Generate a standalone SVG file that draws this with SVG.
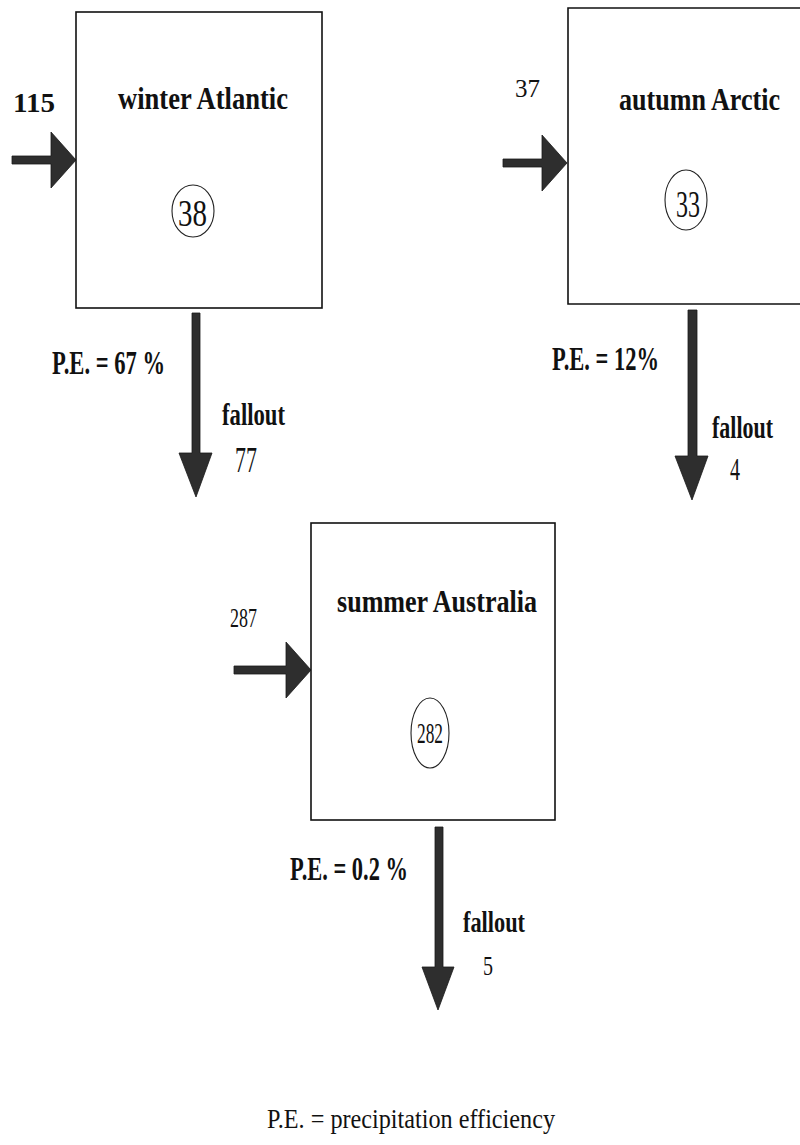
<svg xmlns="http://www.w3.org/2000/svg" width="800" height="1145" viewBox="0 0 800 1145">
  <style>
    .box { fill: #ffffff; stroke: #111111; stroke-width: 1.6; }
    .pool { fill: none; stroke: #222222; stroke-width: 1.1; }
    .arrow { fill: #2e2e2e; stroke: #1a1a1a; stroke-width: 0.8; }
    .title { font-family: "Liberation Serif", "Times New Roman", serif; font-weight: bold; fill: #111111; }
    .num { font-family: "Liberation Serif", "Times New Roman", serif; fill: #111111; }
    .bnum { font-family: "Liberation Serif", "Times New Roman", serif; font-weight: bold; fill: #111111; }
  </style>
  <rect width="800" height="1145" fill="#ffffff"/>

  <g id="connectors">
    <path id="in-atlantic" class="arrow" d="M12,156 L51,156 L51,132 L76,160 L51,188 L51,164 L12,164 Z"/>
    <path id="in-arctic" class="arrow" d="M503,159 L542,159 L542,135 L567,163 L542,191 L542,167 L503,167 Z"/>
    <path id="in-australia" class="arrow" d="M234,666 L286,666 L286,642 L311,670 L286,698 L286,674 L234,674 Z"/>
    <path id="out-atlantic" class="arrow" d="M192,313 L200,313 L200,453 L212,453 L196,497 L179,453 L192,453 Z"/>
    <path id="out-arctic" class="arrow" d="M688,310 L697,310 L697,456 L708,456 L692,500 L675,456 L688,456 Z"/>
    <path id="out-australia" class="arrow" d="M435,827 L443,827 L443,967 L454,967 L438,1010 L422,967 L435,967 Z"/>

    <text class="bnum" x="13" y="112" font-size="28" textLength="42" lengthAdjust="spacingAndGlyphs">115</text>
    <text class="num" x="515" y="97" font-size="26" textLength="25" lengthAdjust="spacingAndGlyphs">37</text>
    <text class="num" x="230" y="627" font-size="28" textLength="27" lengthAdjust="spacingAndGlyphs">287</text>

    <text class="title" x="52" y="374" font-size="34" textLength="113" lengthAdjust="spacingAndGlyphs">P.E. = 67 %</text>
    <text class="title" x="222" y="425" font-size="31" textLength="63" lengthAdjust="spacingAndGlyphs">fallout</text>
    <text class="num" x="235" y="472" font-size="35" textLength="22" lengthAdjust="spacingAndGlyphs">77</text>

    <text class="title" x="552" y="370" font-size="34" textLength="107" lengthAdjust="spacingAndGlyphs">P.E. = 12%</text>
    <text class="title" x="712" y="438" font-size="31" textLength="61" lengthAdjust="spacingAndGlyphs">fallout</text>
    <text class="num" x="730" y="480" font-size="32" textLength="10" lengthAdjust="spacingAndGlyphs">4</text>

    <text class="title" x="290" y="880" font-size="34" textLength="118" lengthAdjust="spacingAndGlyphs">P.E. = 0.2 %</text>
    <text class="title" x="463" y="932" font-size="30" textLength="62" lengthAdjust="spacingAndGlyphs">fallout</text>
    <text class="num" x="483" y="975" font-size="27" textLength="10" lengthAdjust="spacingAndGlyphs">5</text>
  </g>

  <g id="node-winter-atlantic">
    <rect class="box" x="76" y="12" width="246" height="296"/>
    <text class="title" transform="translate(118,109) scale(1,1.2)" x="0" y="0" font-size="26" textLength="170" lengthAdjust="spacingAndGlyphs">winter Atlantic</text>
    <ellipse class="pool" cx="193" cy="211" rx="21" ry="26"/>
    <text class="num" x="178" y="226" font-size="38" textLength="29" lengthAdjust="spacingAndGlyphs">38</text>
  </g>

  <g id="node-autumn-arctic">
    <path class="box" d="M800,8 H568 V304 H800"/>
    <text class="title" transform="translate(619,110) scale(1,1.2)" x="0" y="0" font-size="26" textLength="161" lengthAdjust="spacingAndGlyphs">autumn Arctic</text>
    <ellipse class="pool" cx="686" cy="200" rx="21" ry="30"/>
    <text class="num" x="676" y="217" font-size="37" textLength="24" lengthAdjust="spacingAndGlyphs">33</text>
  </g>

  <g id="node-summer-australia">
    <rect class="box" x="311" y="523" width="244" height="297"/>
    <text class="title" transform="translate(337,612) scale(1,1.2)" x="0" y="0" font-size="26" textLength="200" lengthAdjust="spacingAndGlyphs">summer Australia</text>
    <ellipse class="pool" cx="430" cy="733" rx="19" ry="35"/>
    <text class="num" x="417" y="743" font-size="29" textLength="26" lengthAdjust="spacingAndGlyphs">282</text>
  </g>

  <g id="legend">
    <text class="num" x="267" y="1128" font-size="27" textLength="288" lengthAdjust="spacingAndGlyphs">P.E. = precipitation efficiency</text>
  </g>
</svg>
